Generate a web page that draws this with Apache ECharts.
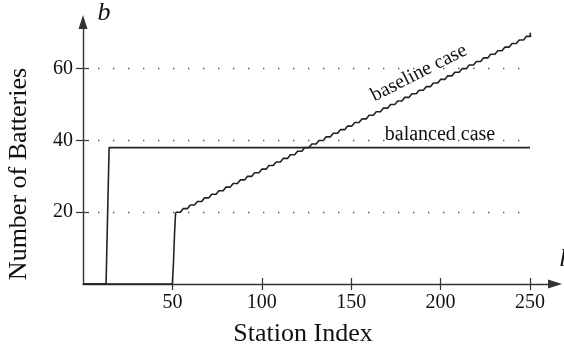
<!DOCTYPE html>
<html>
<head>
<meta charset="utf-8">
<script src="https://cdn.jsdelivr.net/npm/echarts@6/dist/echarts.min.js"></script>
<style>
  html, body { margin: 0; padding: 0; background: #fff; }
  #chart { width: 564px; height: 351px; }
</style>
</head>
<body>
<div id="chart"></div>
<script>
// Tick positions on each axis
const xTicks = [50, 100, 150, 200, 250];
const yTicks = [20, 40, 60];

// Balanced case: jumps to 38 batteries early, then stays flat
const balancedX = [0, 12.9, 14.6, 250];
const balancedY = [0, 0, 38, 38];

// Baseline case: zero until station 50, a jump to 20, then one more battery every few stations
const baselineRiseX = [0, 50, 50.6, 51.2, 51.8];
const baselineRiseY = [0, 0, 6, 14, 20];
const baselineStepX = [52, 56, 60, 64, 68, 72, 76, 80, 84, 88, 92, 96, 100, 104, 108, 112, 116, 120, 124, 128,
  132, 136, 140, 144, 148, 152, 156, 160, 164, 168, 172, 176, 180, 184, 188, 192, 196, 200, 204, 208,
  212, 216, 220, 224, 228, 232, 236, 240, 244, 248];
const baselineStepY = [20, 21, 22, 23, 24, 25, 26, 27, 28, 29, 30, 31, 32, 33, 34, 35, 36, 37, 38, 39,
  40, 41, 42, 43, 44, 45, 46, 47, 48, 49, 50, 51, 52, 53, 54, 55, 56, 57, 58, 59,
  60, 61, 62, 63, 64, 65, 66, 67, 68, 69];
const baselineEnd = [250, 70];
// each level is held for part of its span before easing up to the next one
const stepHold = 2.4;

const pairs = (xs, ys) => xs.map((x, i) => [x, ys[i]]);
const stairs = (xs, ys, hold, end) => {
  const pts = [];
  xs.forEach((x, i) => { pts.push([x, ys[i]]); pts.push([x + hold, ys[i]]); });
  pts.push(end);
  return pts;
};

const serif = '"Liberation Serif", "DejaVu Serif", serif';
const ink = '#222';
const axisInk = '#333';

const chart = echarts.init(document.getElementById('chart'), null, { renderer: 'canvas' });

const baseAxis = {
  type: 'value',
  min: 0,
  splitLine: { show: false },
  axisLine: { onZero: false }
};

chart.setOption({
  animation: false,
  backgroundColor: '#fff',
  grid: { left: 83, right: 9, top: 22, bottom: 67, containLabel: false, outerBoundsMode: 'none' },
  xAxis: [
    Object.assign({}, baseAxis, {
      position: 'bottom',
      max: 264,
      axisLine: { show: true, onZero: false, symbol: ['none', 'triangle'], symbolSize: [9, 14],
        lineStyle: { color: axisInk, width: 1.4 } },
      axisTick: { show: true, inside: false, length: 6, customValues: xTicks,
        lineStyle: { color: axisInk, width: 1.2 } },
      axisLabel: { show: true, customValues: xTicks, margin: 9, color: '#111',
        fontFamily: serif, fontSize: 20 }
    }),
    Object.assign({}, baseAxis, {
      position: 'bottom',
      max: 264,
      axisLine: { show: false, onZero: false },
      axisTick: { show: true, inside: true, length: 6, customValues: xTicks,
        lineStyle: { color: axisInk, width: 1.2 } },
      axisLabel: { show: false }
    })
  ],
  yAxis: [
    Object.assign({}, baseAxis, {
      position: 'left',
      max: 73,
      axisLine: { show: true, onZero: false, symbol: ['none', 'triangle'], symbolSize: [9, 14],
        lineStyle: { color: axisInk, width: 1.4 } },
      axisTick: { show: true, inside: false, length: 7, customValues: yTicks,
        lineStyle: { color: axisInk, width: 1.2 } },
      axisLabel: { show: true, customValues: yTicks, margin: 10, color: '#111',
        fontFamily: serif, fontSize: 20 }
    }),
    Object.assign({}, baseAxis, {
      position: 'left',
      max: 73,
      axisLine: { show: false, onZero: false },
      axisTick: { show: true, inside: true, length: 6, customValues: yTicks,
        lineStyle: { color: axisInk, width: 1.2 } },
      axisLabel: { show: false }
    })
  ],
  series: [
    {
      // dotted reference lines at the labelled battery counts
      type: 'line',
      data: [],
      silent: true,
      markLine: {
        silent: true,
        symbol: ['none', 'none'],
        label: { show: false },
        lineStyle: { color: '#555', width: 1.3, type: [1.4, 13.6] },
        data: yTicks.map(v => [{ coord: [0, v] }, { coord: [250, v] }])
      }
    },
    {
      name: 'balanced case',
      type: 'line',
      data: pairs(balancedX, balancedY),
      symbol: 'none',
      lineStyle: { color: ink, width: 1.6 },
      z: 3
    },
    {
      name: 'baseline rise',
      type: 'line',
      data: pairs(baselineRiseX, baselineRiseY),
      symbol: 'none',
      lineStyle: { color: ink, width: 1.6 },
      z: 3
    },
    {
      name: 'baseline case',
      type: 'line',
      data: stairs(baselineStepX, baselineStepY, stepHold, baselineEnd),
      symbol: 'none',
      lineStyle: { color: ink, width: 1.6, join: 'round' },
      z: 3
    }
  ],
  graphic: [
    {
      type: 'text', x: 19, y: 174, rotation: Math.PI / 2,
      style: { text: 'Number of Batteries', font: '26px ' + serif, fill: '#111',
        textAlign: 'center', textVerticalAlign: 'middle' }
    },
    {
      type: 'text', x: 303, y: 334,
      style: { text: 'Station Index', font: '26px ' + serif, fill: '#111',
        textAlign: 'center', textVerticalAlign: 'middle' }
    },
    {
      type: 'text', x: 104, y: 13,
      style: { text: 'b', font: 'italic 26px ' + serif, fill: '#111',
        textAlign: 'center', textVerticalAlign: 'middle' }
    },
    {
      type: 'text', x: 559, y: 272,
      style: { text: 'l', font: 'italic 26px ' + serif, fill: '#111',
        textAlign: 'left', textVerticalAlign: 'bottom' }
    },
    {
      type: 'text', x: 440, y: 135, z: 10,
      style: { text: 'balanced case', font: '20px ' + serif, fill: '#111',
        textAlign: 'center', textVerticalAlign: 'middle' }
    },
    {
      type: 'text', x: 419, y: 73, rotation: 0.47, z: 10,
      style: { text: 'baseline case', font: '20px ' + serif, fill: '#111',
        textAlign: 'center', textVerticalAlign: 'middle' }
    }
  ]
});
</script>
</body>
</html>
